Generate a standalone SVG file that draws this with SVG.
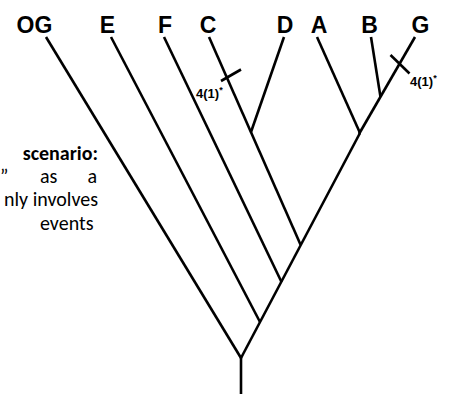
<svg xmlns="http://www.w3.org/2000/svg" width="455" height="394" viewBox="0 0 455 394">
<style>
.br{stroke:#000;stroke-width:2.6;fill:none;stroke-linecap:butt}
.tip{font-family:"Liberation Sans",Arial,sans-serif;font-weight:bold;font-size:23px;fill:#000;text-anchor:middle}
.lab{font-family:"Liberation Sans",Arial,sans-serif;font-weight:bold;font-size:13px;fill:#000}
.sup{font-size:9px}
.txt{font-family:"Carlito","Liberation Sans",Arial,sans-serif;font-size:20px;fill:#000}
</style>
<rect width="455" height="394" fill="#fff"/>
<g id="connectors">
<line class="br" x1="241" y1="394" x2="241" y2="357"/>
<line class="br" x1="46" y1="37" x2="241" y2="358"/>
<line class="br" x1="241" y1="358" x2="360" y2="133"/>
<line class="br" x1="111" y1="37" x2="260" y2="322"/>
<line class="br" x1="164" y1="37" x2="281.5" y2="282"/>
<line class="br" x1="209" y1="37" x2="300.7" y2="245"/>
<line class="br" x1="284" y1="37" x2="251" y2="132"/>
<line class="br" x1="317" y1="37" x2="360" y2="133"/>
<line class="br" x1="415" y1="37" x2="359" y2="134"/>
<line class="br" x1="371" y1="37" x2="380.5" y2="97"/>
<line class="br" x1="221" y1="81" x2="241" y2="69.5"/>
<line class="br" x1="390.5" y1="55" x2="409.5" y2="73.5"/>
</g>
<g id="OG"><text class="tip" x="34.5" y="32.5">OG</text></g>
<g id="E"><text class="tip" x="107.5" y="32.5">E</text></g>
<g id="F"><text class="tip" x="165" y="32.5">F</text></g>
<g id="C"><text class="tip" x="208" y="32.5">C</text></g>
<g id="D"><text class="tip" x="285" y="32.5">D</text></g>
<g id="A"><text class="tip" x="319" y="32.5">A</text></g>
<g id="B"><text class="tip" x="369.5" y="32.5">B</text></g>
<g id="G"><text class="tip" x="420.5" y="32.5">G</text></g>
<g id="tickC"><text class="lab" x="196" y="97.5">4(1)<tspan class="sup" dy="-5">*</tspan></text></g>
<g id="tickG"><text class="lab" x="410" y="86">4(1)<tspan class="sup" dy="-5">*</tspan></text></g>
<g id="note">
<text class="txt" x="98" y="160" text-anchor="end" font-weight="bold">scenario:</text>
<text class="txt" x="0" y="183">”</text>
<text class="txt" x="40" y="183">as</text>
<text class="txt" x="97" y="183" text-anchor="end">a</text>
<text class="txt" x="98" y="206" text-anchor="end">nly involves</text>
<text class="txt" x="40" y="230">events</text>
</g>
</svg>
